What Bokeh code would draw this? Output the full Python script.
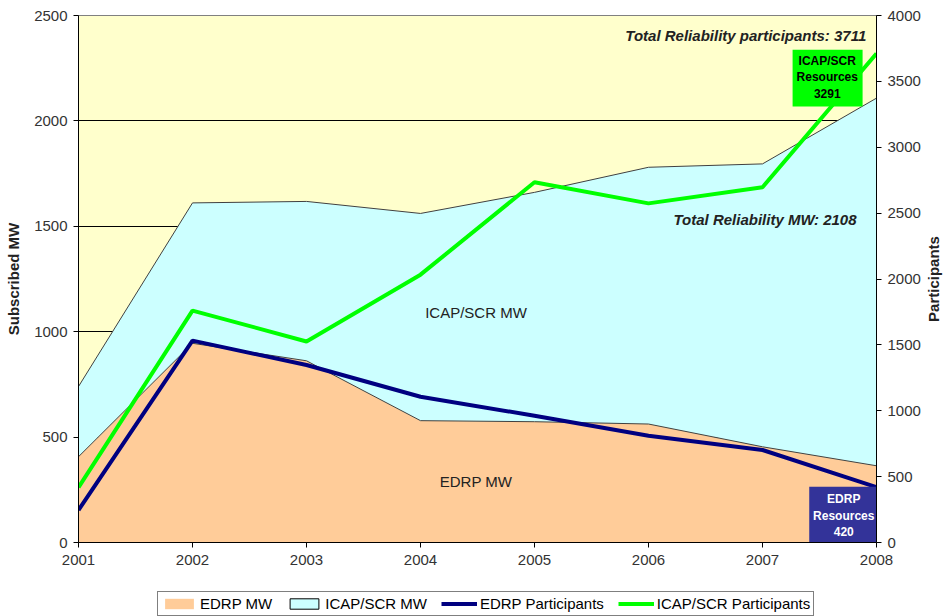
import math
from bokeh.plotting import figure
from bokeh.layouts import column, row
from bokeh.models import (Range1d, LinearAxis, FixedTicker, Legend, LegendItem,
                          Label, ColumnDataSource)
from bokeh.embed import file_html
from bokeh.resources import INLINE

# ---------------- data ----------------
years = [2001, 2002, 2003, 2004, 2005, 2006, 2007, 2008]
edrp_mw = [407, 945, 862, 578, 573, 562, 454, 364]
icap_mw = [333, 666, 756, 983, 1088, 1218, 1342, 1744]
edrp_participants = [246, 1532, 1347, 1106, 962, 810, 702, 420]
icap_participants = [418, 1760, 1526, 2033, 2734, 2574, 2696, 3711]
mw_ticks = [0, 500, 1000, 1500, 2000, 2500]
mw_grid = [500, 1000, 1500, 2000]
participant_ticks = [0, 500, 1000, 1500, 2000, 2500, 3000, 3500, 4000]
legend_labels = ["EDRP MW", "ICAP/SCR MW", "EDRP Participants", "ICAP/SCR Participants"]

total_mw = [e + i for e, i in zip(edrp_mw, icap_mw)]

FONT = "Liberation Sans"
C_EDRP = "#FFCC99"
C_ICAP = "#CCFFFF"
C_BG = "#FFFFCC"
C_NAVY = "#000080"
C_GREEN = "#00FF00"
C_BOX = "#333399"

p = figure(width=923, height=580,
           x_range=Range1d(2001, 2008), y_range=Range1d(0, 2500),
           output_backend="svg", toolbar_location=None,
           min_border_left=78, min_border_right=46,
           min_border_top=15, min_border_bottom=38)
p.background_fill_color = C_BG
p.border_fill_color = "white"
p.outline_line_color = "#808080"
p.extra_y_ranges = {"part": Range1d(0, 4000)}

src = ColumnDataSource(dict(year=years, edrp=edrp_mw, total=total_mw,
                            ep=edrp_participants, ip=icap_participants))

p.varea(x="year", y1=0, y2="edrp", source=src, fill_color=C_EDRP)
p.varea(x="year", y1="edrp", y2="total", source=src, fill_color=C_ICAP)
p.line("year", "total", source=src, line_color="#404040", line_width=1)
p.line("year", "edrp", source=src, line_color="#404040", line_width=1)

p.line("year", "ep", source=src, y_range_name="part",
       line_color=C_NAVY, line_width=4)
p.line("year", "ip", source=src, y_range_name="part",
       line_color=C_GREEN, line_width=4)

# annotation boxes
p.quad(left=[2007.264], right=[2007.878], bottom=[2068], top=[2338],
       fill_color=C_GREEN, line_color=None)
p.quad(left=[2007.41], right=[2008.0], bottom=[0], top=[264],
       fill_color=C_BOX, line_color=None)

for txt, yy in zip(["ICAP/SCR", "Resources", "3291"], [2286, 2207, 2131]):
    p.add_layout(Label(x=2007.568, y=yy, text=txt, text_align="center",
                       text_baseline="middle", text_font=FONT,
                       text_font_size="12px", text_font_style="bold",
                       text_color="black"))
for txt, yy in zip(["EDRP", "Resources", "420"], [206, 127, 52]):
    p.add_layout(Label(x=2007.713, y=yy, text=txt, text_align="center",
                       text_baseline="middle", text_font=FONT,
                       text_font_size="12px", text_font_style="bold",
                       text_color="white"))

p.add_layout(Label(x=2004.487, y=1090, text="ICAP/SCR MW", text_align="center",
                   text_baseline="middle", text_font=FONT, text_font_size="15px",
                   text_color="#222222"))
p.add_layout(Label(x=2004.487, y=288, text="EDRP MW", text_align="center",
                   text_baseline="middle", text_font=FONT, text_font_size="15px",
                   text_color="#222222"))
p.add_layout(Label(x=2007.91, y=2405, text="Total Reliability participants: 3711",
                   text_align="right", text_baseline="middle", text_font=FONT,
                   text_font_size="15px", text_font_style="bold italic",
                   text_color="#222222"))
p.add_layout(Label(x=2007.825, y=1532, text="Total Reliability MW: 2108",
                   text_align="right", text_baseline="middle", text_font=FONT,
                   text_font_size="15px", text_font_style="bold italic",
                   text_color="#222222"))

# axes
def style_axis(ax):
    ax.major_label_text_font = FONT
    ax.major_label_text_font_size = "15px"
    ax.major_label_text_color = "#333333"
    ax.axis_line_color = "black"
    ax.major_tick_line_color = "black"
    ax.major_tick_in = 0
    ax.major_tick_out = 5
    ax.minor_tick_line_color = None
    ax.axis_label_text_font = FONT
    ax.axis_label_text_font_size = "15px"
    ax.axis_label_text_font_style = "bold"
    ax.axis_label_text_color = "#222222"

p.xaxis.ticker = FixedTicker(ticks=years)
style_axis(p.xaxis[0])
p.xaxis.major_label_standoff = 7

p.yaxis.ticker = FixedTicker(ticks=mw_ticks)
style_axis(p.yaxis[0])
p.yaxis.axis_label = "Subscribed MW"
p.yaxis.major_label_standoff = 6
p.yaxis.axis_label_standoff = 9

ax_r = LinearAxis(y_range_name="part", ticker=FixedTicker(ticks=participant_ticks))
style_axis(ax_r)
ax_r.major_label_standoff = 6
p.add_layout(ax_r, "right")

p.xgrid.visible = False
p.ygrid.ticker = FixedTicker(ticks=mw_grid)
p.ygrid.grid_line_color = "black"
p.ygrid.grid_line_width = 1

# ---------------- right axis title strip ----------------
lf = figure(width=20, height=580, x_range=Range1d(0, 20), y_range=Range1d(0, 1),
            output_backend="svg", toolbar_location=None,
            x_axis_location=None, y_axis_location=None,
            min_border_left=0, min_border_right=0,
            min_border_top=15, min_border_bottom=38)
lf.outline_line_color = None
lf.grid.visible = False
lf.background_fill_color = "white"
lf.border_fill_color = "white"
lf.add_layout(Label(x=10, y=0.5, text="Participants", angle=math.pi / 2,
                    text_align="center", text_baseline="middle", text_font=FONT,
                    text_font_size="15px", text_font_style="bold",
                    text_color="#222222"))

# ---------------- legend strip ----------------
lg = figure(width=923, height=36, x_range=Range1d(0, 1), y_range=Range1d(0, 1),
            output_backend="svg", toolbar_location=None,
            x_axis_location=None, y_axis_location=None,
            min_border=0)
lg.outline_line_color = None
lg.grid.visible = False
lg.background_fill_color = "white"
lg.border_fill_color = "white"
off = [5, 6]
g1 = lg.varea(x=off, y1=[0, 0], y2=[1, 1], fill_color=C_EDRP)
g2 = lg.quad(left=[5], right=[6], bottom=[5], top=[6], fill_color=C_ICAP,
             line_color="black", line_width=1)
g3 = lg.line(x=off, y=off, line_color=C_NAVY, line_width=4)
g4 = lg.line(x=off, y=off, line_color=C_GREEN, line_width=4)
legend = Legend(items=[
    LegendItem(label=legend_labels[0], renderers=[g1]),
    LegendItem(label=legend_labels[1], renderers=[g2]),
    LegendItem(label=legend_labels[2], renderers=[g3]),
    LegendItem(label=legend_labels[3], renderers=[g4]),
], orientation="horizontal", location=(79, 0),
    border_line_color="black", border_line_width=1,
    background_fill_color="white", background_fill_alpha=1.0,
    label_text_font=FONT, label_text_font_size="15px", label_text_color="black",
    label_height=16,
    glyph_width=36, glyph_height=13, label_standoff=3, spacing=14,
    padding=3, margin=0)
lg.add_layout(legend)

layout = row(column(p, lg, spacing=0), lf, spacing=0)
open("out.html", "w").write(file_html(layout, INLINE))
